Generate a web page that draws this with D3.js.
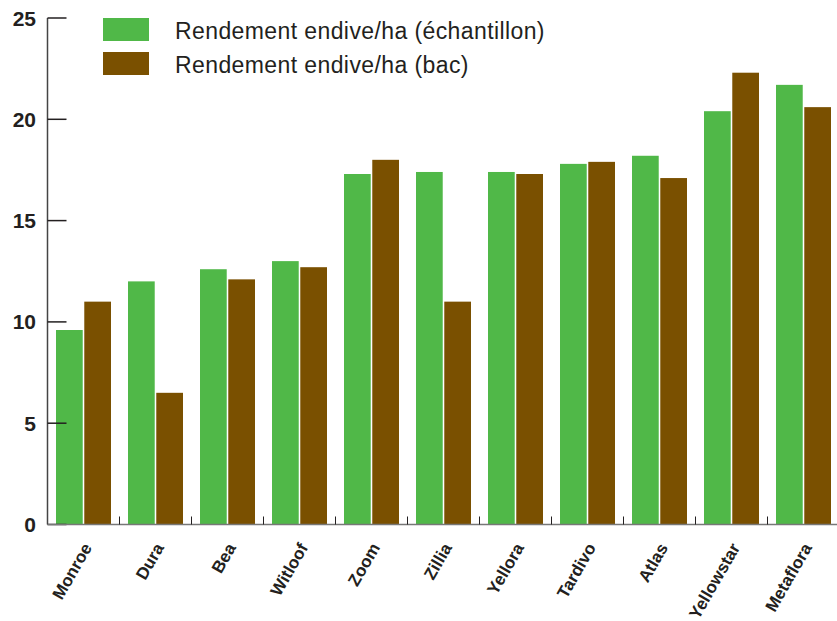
<!DOCTYPE html>
<html>
<head>
<meta charset="utf-8">
<script src="https://cdn.jsdelivr.net/npm/d3@7"></script>
<style>
  body { margin: 0; background: #fff; }
  svg { display: block; font-family: "Liberation Sans", Arial, sans-serif; }
  .y-tick text { font-weight: bold; font-size: 21px; fill: #231f20; }
  .x-label { font-weight: bold; font-size: 17px; fill: #231f20; }
  .legend-text { font-size: 23px; fill: #231f20; letter-spacing: 0.4px; }
</style>
</head>
<body>
<svg id="chart" width="837" height="621"></svg>
<script>
// varieties
const categories = ['Monroe', 'Dura', 'Bea', 'Witloof', 'Zoom', 'Zillia', 'Yellora', 'Tardivo', 'Atlas', 'Yellowstar', 'Metaflora'];
// rendement endive/ha (échantillon)
const sampleYield = [9.6, 12.0, 12.6, 13.0, 17.3, 17.4, 17.4, 17.8, 18.2, 20.4, 21.7];
// rendement endive/ha (bac)
const bacYield = [11.0, 6.5, 12.1, 12.7, 18.0, 11.0, 17.3, 17.9, 17.1, 22.3, 20.6];
const yTicks = [0, 5, 10, 15, 20, 25];
const seriesNames = ['Rendement endive/ha (échantillon)', 'Rendement endive/ha (bac)'];
const seriesColors = ['#50b848', '#7a5000'];

const margin = { top: 18, left: 47.5 };
const plotRight = 839.5;
const plotBottom = 524.5;

const svg = d3.select('#chart');

const x0 = d3.scaleBand()
    .domain(categories)
    .range([margin.left, plotRight])
    .paddingInner(0)
    .paddingOuter(0);

const x1 = d3.scaleBand()
    .domain([0, 1])
    .range([8.5, x0.bandwidth() - 8.5])
    .paddingInner(0.055);

const y = d3.scaleLinear()
    .domain([0, 25])
    .range([plotBottom, margin.top]);

// bars
const groups = svg.append('g')
    .selectAll('g')
    .data(categories)
    .join('g')
    .attr('transform', d => `translate(${x0(d)},0)`);

groups.selectAll('rect')
    .data((d, i) => [sampleYield[i], bacYield[i]])
    .join('rect')
    .attr('x', (d, i) => x1(i))
    .attr('width', x1.bandwidth())
    .attr('y', d => y(d))
    .attr('height', d => y(0) - y(d))
    .attr('fill', (d, i) => seriesColors[i]);

// y axis
const yAxis = svg.append('g').attr('class', 'y-axis');
yAxis.append('line')
    .attr('x1', margin.left).attr('x2', margin.left)
    .attr('y1', y(25)).attr('y2', plotBottom)
    .attr('stroke', '#444').attr('stroke-width', 1.5);

const yt = yAxis.selectAll('g.y-tick')
    .data(yTicks)
    .join('g')
    .attr('class', 'y-tick')
    .attr('transform', d => `translate(0,${y(d)})`);
yt.append('line')
    .attr('x1', margin.left).attr('x2', margin.left + 19)
    .attr('stroke', '#231f20').attr('stroke-width', 1.5);
yt.append('text')
    .attr('x', 36)
    .attr('dy', '0.36em')
    .attr('text-anchor', 'end')
    .text(d => d);

// x axis
const xAxis = svg.append('g').attr('class', 'x-axis');
xAxis.append('line')
    .attr('x1', margin.left).attr('x2', plotRight)
    .attr('y1', plotBottom).attr('y2', plotBottom)
    .attr('stroke', '#777').attr('stroke-width', 1.5);

xAxis.selectAll('line.x-tick')
    .data(categories.slice(1))
    .join('line')
    .attr('class', 'x-tick')
    .attr('x1', d => x0(d)).attr('x2', d => x0(d))
    .attr('y1', plotBottom - 8).attr('y2', plotBottom)
    .attr('stroke', '#231f20').attr('stroke-width', 1);

xAxis.selectAll('text.x-label')
    .data(categories)
    .join('text')
    .attr('class', 'x-label')
    .attr('text-anchor', 'end')
    .attr('transform', d => `translate(${x0(d) + x0.bandwidth() / 2 + 9},${plotBottom + 23}) rotate(-60)`)
    .text(d => d);

// legend
const legend = svg.append('g')
    .selectAll('g')
    .data(seriesNames)
    .join('g')
    .attr('transform', (d, i) => `translate(103,${18 + i * 34})`);
legend.append('rect')
    .attr('width', 46).attr('height', 23)
    .attr('fill', (d, i) => seriesColors[i]);
legend.append('text')
    .attr('class', 'legend-text')
    .attr('x', 72)
    .attr('y', 21)
    .text(d => d);
</script>
</body>
</html>
